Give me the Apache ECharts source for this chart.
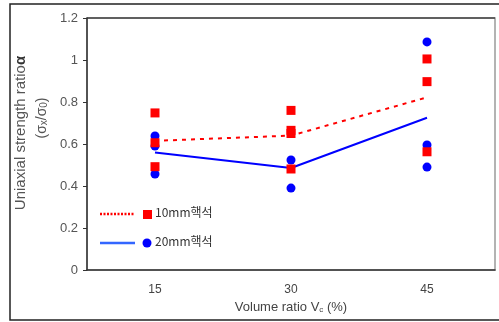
<!DOCTYPE html>
<html>
<head>
<meta charset="utf-8">
<script src="https://cdn.jsdelivr.net/npm/echarts@6/dist/echarts.min.js"></script>
<style>
  html, body { margin: 0; padding: 0; background: #fff; }
  #chart { width: 499px; height: 322px; }
</style>
</head>
<body>
<div id="chart"></div>
<script>
// Volume ratio categories (%)
const categories = ['15', '30', '45'];
const yTicks = [0, 0.2, 0.4, 0.6, 0.8, 1.0, 1.2];

// Individual test results, [category index, strength ratio]
const core10Points = [
  [0, 0.748], [0, 0.606], [0, 0.492],
  [1, 0.760], [1, 0.665], [1, 0.650], [1, 0.481],
  [2, 1.005], [2, 0.897], [2, 0.563]
];
const core20Points = [
  [0, 0.638], [0, 0.590], [0, 0.457],
  [1, 0.524], [1, 0.390],
  [2, 1.086], [2, 0.595], [2, 0.490]
];

// Mean strength ratio per volume ratio
const core10Mean = [0.615, 0.640, 0.822];
const core20Mean = [0.560, 0.486, 0.725];

const RED = '#ff0000';
const BLUE = '#0000ff';
const FONT = '"Liberation Sans", Arial, sans-serif';

const chart = echarts.init(document.getElementById('chart'), null, { renderer: 'canvas' });

chart.setOption({
  animation: false,
  grid: { left: 87, right: 4, top: 18, bottom: 52, show: true, borderColor: '#9a9a9a', borderWidth: 1.5 },
  xAxis: {
    type: 'category',
    data: categories,
    boundaryGap: true,
    axisLine: { lineStyle: { color: '#333', width: 1.5 } },
    axisTick: { inside: true, length: 4, lineStyle: { color: '#333' } },
    axisLabel: { color: '#444', fontFamily: FONT, fontSize: 12, margin: 14 },
    splitLine: { show: false }
  },
  yAxis: {
    type: 'value',
    min: 0, max: 1.2, interval: 0.2,
    axisLine: { show: true, lineStyle: { color: '#333', width: 1.5 } },
    axisTick: { show: true, length: 4, lineStyle: { color: '#333' } },
    axisLabel: {
      color: '#555', fontFamily: FONT, fontSize: 13, margin: 9,
      formatter: v => yTicks.includes(+v.toFixed(1)) ? String(+v.toFixed(1)) : ''
    },
    splitLine: { show: false }
  },
  series: [
    {
      name: '10mm핵석 평균', type: 'line', data: core10Mean,
      symbol: 'none', lineStyle: { color: RED, width: 2, type: [4, 5] }, z: 2
    },
    {
      name: '20mm핵석 평균', type: 'line', data: core20Mean,
      symbol: 'none', lineStyle: { color: BLUE, width: 2 }, z: 2
    },
    {
      name: '20mm핵석', type: 'scatter', data: core20Points,
      symbol: 'circle', symbolSize: 9, itemStyle: { color: BLUE, opacity: 1 }, z: 3
    },
    {
      name: '10mm핵석', type: 'scatter', data: core10Points,
      symbol: 'rect', symbolSize: 9, itemStyle: { color: RED, opacity: 1 }, z: 4
    }
  ],
  graphic: [
    // outer frame
    { type: 'rect', shape: { x: 10, y: 4, width: 500, height: 316 },
      style: { fill: 'none', stroke: '#222', lineWidth: 1.5 }, silent: true, z: -1 },
    // darker top edge of the plot box
    { type: 'line', shape: { x1: 87, y1: 18, x2: 495, y2: 18 },
      style: { stroke: '#444', lineWidth: 1.5 }, silent: true },
    // legend: 10mm
    { type: 'line', shape: { x1: 100, y1: 214, x2: 135, y2: 214 },
      style: { stroke: RED, lineWidth: 2.5, lineDash: [2, 1.5] } },
    { type: 'rect', shape: { x: 143, y: 210, width: 9, height: 9 }, style: { fill: RED } },
    { type: 'text', left: 155, top: 206,
      style: { text: '10mm핵석', fill: '#333', font: '12px "Noto Sans CJK KR", sans-serif' } },
    // legend: 20mm
    { type: 'line', shape: { x1: 100, y1: 243, x2: 135, y2: 243 },
      style: { stroke: '#3366ff', lineWidth: 2.5 } },
    { type: 'circle', shape: { cx: 147, cy: 243, r: 4.5 }, style: { fill: BLUE } },
    { type: 'text', left: 155, top: 235,
      style: { text: '20mm핵석', fill: '#333', font: '12px "Noto Sans CJK KR", sans-serif' } },
    // y-axis title
    { type: 'text', x: 21, y: 133, rotation: Math.PI / 2,
      style: {
        text: '{n|Uniaxial strength ratio}{b|α}',
        align: 'center', verticalAlign: 'middle',
        rich: {
          n: { fill: '#555', font: '15px ' + FONT },
          b: { fill: '#333', font: 'bold 15px ' + FONT }
        }
      } },
    { type: 'text', x: 42, y: 118, rotation: Math.PI / 2,
      style: {
        text: '{n|(σ}{s|x}{n|/σ}{s|0}{n|)}',
        align: 'center', verticalAlign: 'middle',
        rich: {
          n: { fill: '#555', font: '14px ' + FONT },
          s: { fill: '#555', font: '10px ' + FONT, padding: [5, 0, 0, 0] }
        }
      } },
    // x-axis title
    { type: 'text', x: 291, y: 307,
      style: {
        text: '{n|Volume ratio V}{s|c}{n| (%)}',
        align: 'center', verticalAlign: 'middle',
        rich: {
          n: { fill: '#444', font: '13px ' + FONT },
          s: { fill: '#444', font: '8px ' + FONT, padding: [5, 0, 0, 0] }
        }
      } }
  ]
});
</script>
</body>
</html>
